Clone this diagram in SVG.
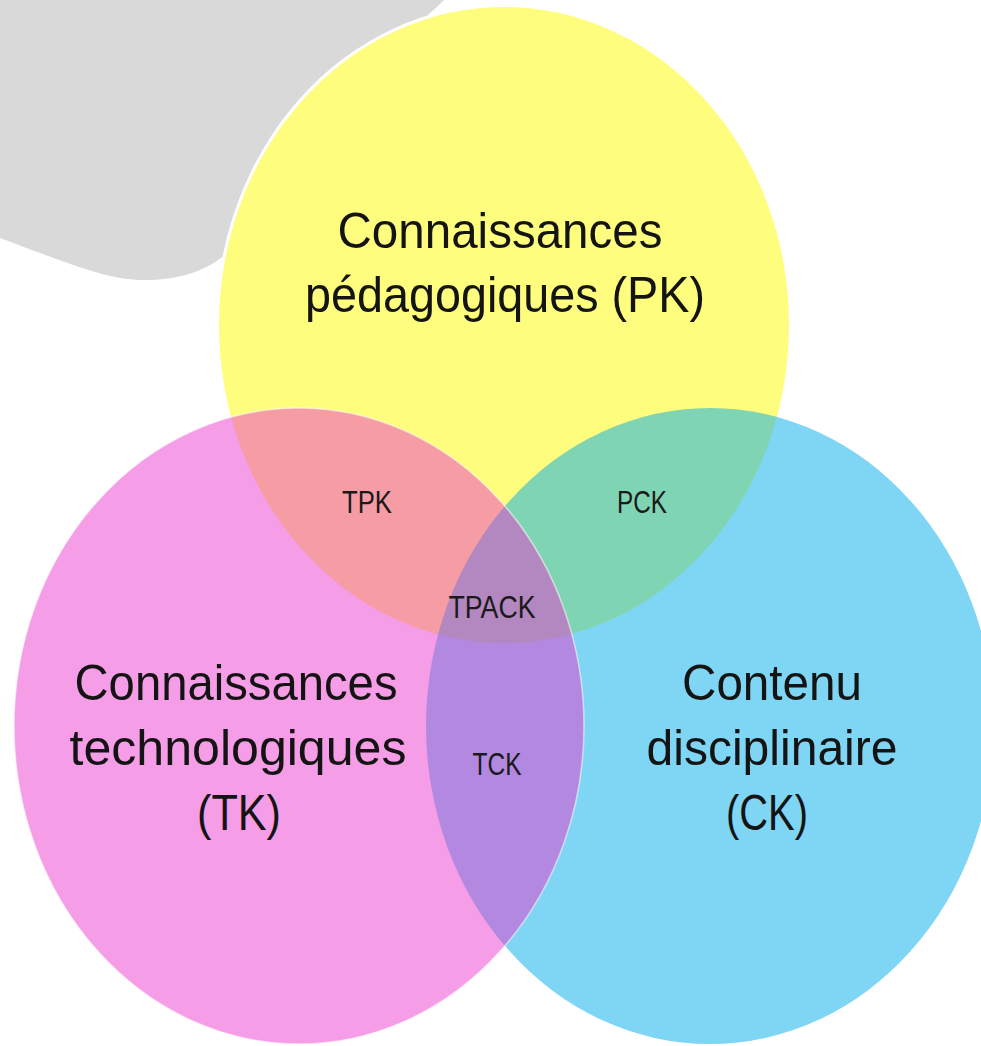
<svg xmlns="http://www.w3.org/2000/svg" width="981" height="1046" viewBox="0 0 981 1046">
  <style>
    .big { font-family: "Liberation Sans", Arial, sans-serif; font-size: 50px; fill: #141414; text-anchor: middle; }
    .small { font-family: "Liberation Sans", Arial, sans-serif; font-size: 31px; fill: #1a1a1a; text-anchor: middle; }
  </style>
  <rect width="981" height="1046" fill="#ffffff"/>
  <g id="blob">
    <path d="M0,0 H444 C420,25 300,120 255,215 C235,255 205,278 150,280 C115,281 90,272 0,238 Z" fill="#d9d9d9"/>
  </g>
  <g id="node-pk">
    <ellipse cx="504" cy="325" rx="288" ry="321" fill="#ffffff"/>
    <ellipse cx="504" cy="325" rx="285" ry="318" fill="#fffd7d"/>
  </g>
  <g id="node-ck">
    <ellipse cx="710" cy="726" rx="284" ry="318" fill="#00ade9" fill-opacity="0.5"/>
  </g>
  <g id="node-tk">
    <ellipse cx="299" cy="726" rx="285" ry="318" fill="#eb37ce" fill-opacity="0.49" stroke="#ffffff" stroke-opacity="0.55" stroke-width="1.5"/>
  </g>
  <g id="connectors"/>
  <g id="label-pk">
    <text class="big" x="500" y="248" textLength="325" lengthAdjust="spacingAndGlyphs">Connaissances</text>
    <text class="big" x="505" y="312" textLength="400" lengthAdjust="spacingAndGlyphs">pédagogiques (PK)</text>
  </g>
  <g id="label-tk">
    <text class="big" x="236" y="700" textLength="323" lengthAdjust="spacingAndGlyphs">Connaissances</text>
    <text class="big" x="238" y="765" textLength="337" lengthAdjust="spacingAndGlyphs">technologiques</text>
    <text class="big" x="239" y="830" textLength="84" lengthAdjust="spacingAndGlyphs">(TK)</text>
  </g>
  <g id="label-ck">
    <text class="big" x="772" y="700" textLength="180" lengthAdjust="spacingAndGlyphs">Contenu</text>
    <text class="big" x="772" y="765" textLength="251" lengthAdjust="spacingAndGlyphs">disciplinaire</text>
    <text class="big" x="767" y="830" textLength="82" lengthAdjust="spacingAndGlyphs">(CK)</text>
  </g>
  <g id="label-tpk">
    <text class="small" x="367" y="513" textLength="50" lengthAdjust="spacingAndGlyphs">TPK</text>
  </g>
  <g id="label-pck">
    <text class="small" x="642" y="513" textLength="50" lengthAdjust="spacingAndGlyphs">PCK</text>
  </g>
  <g id="label-tpack">
    <text class="small" x="492" y="618" textLength="87" lengthAdjust="spacingAndGlyphs">TPACK</text>
  </g>
  <g id="label-tck">
    <text class="small" x="497" y="775" textLength="49" lengthAdjust="spacingAndGlyphs">TCK</text>
  </g>
</svg>
